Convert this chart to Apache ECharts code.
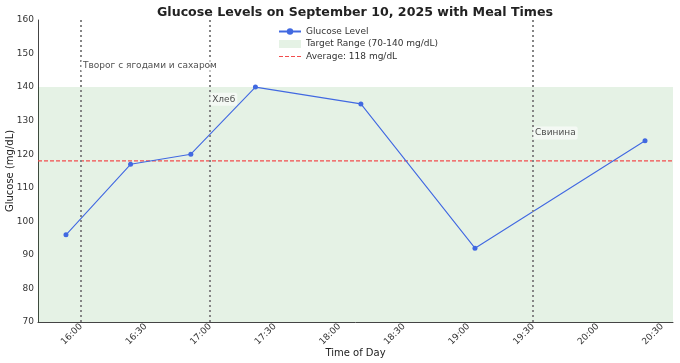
<!DOCTYPE html>
<html>
<head>
<meta charset="utf-8">
<script src="https://cdn.jsdelivr.net/npm/echarts@6/dist/echarts.min.js"></script>
<style>html,body{margin:0;padding:0;background:#fff}#c{width:680px;height:363px}</style>
</head>
<body>
<div id="c"></div>
<script>
// Data
const times = ["15:53", "16:23", "16:51", "17:21", "18:10", "19:03", "20:22"];
const glucose = [96, 117, 120, 140, 135, 92, 124];
const mealTimes = ["16:00", "17:00", "19:30"];
const mealNames = ["Творог с ягодами и сахаром", "Хлеб", "Свинина"];
const mealLabelY = [146.3, 136.4, 126.3];
const xTickLabels = ["16:00", "16:30", "17:00", "17:30", "18:00", "18:30", "19:00", "19:30", "20:00", "20:30"];
const yTicks = [70, 80, 90, 100, 110, 120, 130, 140, 150, 160];
const xRange = ["15:40", "20:35"];
const targetLow = 70, targetHigh = 140;
const average = 118;

const toMin = s => { const [h, m] = s.split(":").map(Number); return h * 60 + m; };
const fmt = v => { const h = Math.floor(v / 60), m = Math.round(v % 60); return String(h).padStart(2, "0") + ":" + String(m).padStart(2, "0"); };

const font = "DejaVu Sans";
const avgColor = "#f24d4d";
const dashedIcon = "path://M0,0h0.01v0.01h-0.01zM21.99,7.99h0.01v0.01h-0.01zM0,3.4h4v1.2h-4zM6,3.4h4v1.2h-4zM12,3.4h4v1.2h-4zM18,3.4h4v1.2h-4z";

const chart = echarts.init(document.getElementById("c"), null, { renderer: "canvas" });
chart.setOption({
  animation: false,
  textStyle: { fontFamily: font },
  title: {
    text: "Glucose Levels on September 10, 2025 with Meal Times",
    left: 355, top: 6, padding: 0, textAlign: "center",
    textStyle: { fontFamily: font, fontSize: 12.6, fontWeight: "bold", color: "#222" }
  },
  legend: {
    orient: "vertical", left: 278, top: 27, padding: 0, itemWidth: 22, itemHeight: 8, itemGap: 3.5,
    textStyle: { fontFamily: font, fontSize: 9, color: "#333" },
    data: [
      { name: "Glucose Level" },
      { name: "Target Range (70-140 mg/dL)", icon: "rect", itemStyle: { color: "rgba(0,128,0,0.1)" } },
      { name: "Average: 118 mg/dL", icon: dashedIcon, itemStyle: { color: avgColor } }
    ]
  },
  grid: { left: 38, right: 7, top: 20, bottom: 41, outerBoundsMode: "none", containLabel: false },
  xAxis: {
    type: "value", min: toMin(xRange[0]), max: toMin(xRange[1]),
    name: "Time of Day", nameLocation: "middle", nameGap: 26, nameMoveOverlap: false,
    nameTextStyle: { fontFamily: font, fontSize: 10, color: "#222" },
    axisLine: { show: true, lineStyle: { color: "#444", width: 1 } },
    axisTick: { show: false },
    splitLine: { show: false },
    axisLabel: {
      customValues: xTickLabels.map(toMin), rotate: 45, margin: 3,
      formatter: v => fmt(v), fontFamily: font, fontSize: 9, color: "#333"
    }
  },
  yAxis: {
    type: "value", min: yTicks[0], max: yTicks[yTicks.length - 1], interval: 10,
    name: "Glucose (mg/dL)", nameLocation: "middle", nameGap: 23, nameMoveOverlap: false,
    nameTextStyle: { fontFamily: font, fontSize: 10, color: "#222" },
    axisLine: { show: true, lineStyle: { color: "#444", width: 1 } },
    axisTick: { show: false },
    splitLine: { show: false },
    axisLabel: { fontFamily: font, fontSize: 9, color: "#333", margin: 4 }
  },
  series: [
    {
      name: "Target Range (70-140 mg/dL)", type: "line", data: [], symbol: "none",
      itemStyle: { color: "rgba(0,128,0,0.1)" },
      markArea: {
        silent: true,
        itemStyle: { color: "rgba(0,128,0,0.1)" },
        data: [[{ yAxis: targetLow }, { yAxis: targetHigh }]]
      },
      z: 1
    },
    {
      name: "Average: 118 mg/dL", type: "line", symbol: "none", silent: true,
      data: xRange.map(t => [toMin(t), average]),
      itemStyle: { color: avgColor },
      lineStyle: { color: avgColor, type: [4, 2], width: 1.2 },
      z: 3
    },
    {
      name: "meals", type: "scatter", symbolSize: 0,
      data: mealTimes.map((t, i) => ({ value: [toMin(t), mealLabelY[i]], name: mealNames[i] })),
      label: {
        show: true, position: "right", distance: 0, formatter: p => p.name,
        fontFamily: font, fontSize: 9, color: "#222",
        backgroundColor: "rgba(255,255,255,0.7)", padding: [2, 2], borderRadius: 2
      },
      markLine: {
        silent: true, symbol: "none", label: { show: false },
        lineStyle: { color: "#858585", type: [2, 3], width: 2, opacity: 1 },
        data: mealTimes.map(t => ({ xAxis: toMin(t) }))
      },
      z: 5
    },
    {
      name: "Glucose Level", type: "line",
      data: times.map((t, i) => [toMin(t), glucose[i]]),
      symbol: "circle", symbolSize: 5,
      itemStyle: { color: "#4169e1" },
      lineStyle: { color: "#4169e1", width: 1.1 },
      z: 4
    }
  ]
});
</script>
</body>
</html>
